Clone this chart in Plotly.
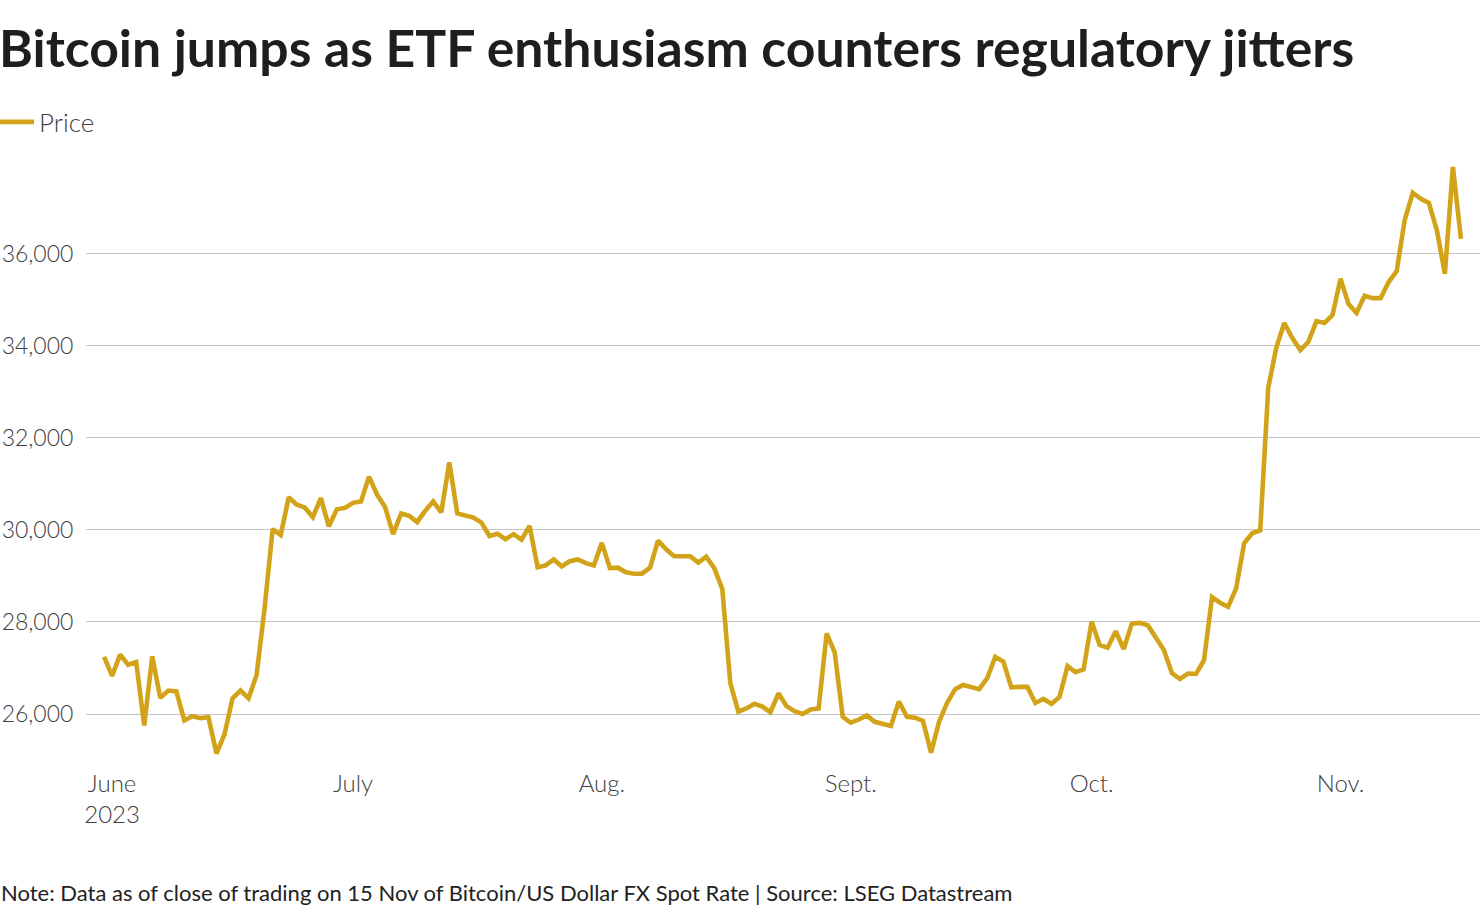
import pandas as pd
import plotly.graph_objects as go

start_date = "2023-05-31"
end_date = "2023-11-16"

prices = [
    27240,
    26830, 27290, 27070, 27130, 25750, 27250, 26350, 26510, 26490, 25860,
    25950, 25910, 25930, 25140, 25560, 26340, 26510, 26340, 26850, 28310,
    30020, 29890, 30710, 30550, 30490, 30280, 30690, 30080, 30450, 30480,
    30590, 30620, 31160, 30770, 30500, 29910, 30360, 30310, 30170, 30420,
    30620, 30380, 31470, 30360, 30320, 30270, 30160, 29870, 29920, 29800,
    29910, 29790, 30090, 29190, 29230, 29360, 29210, 29320, 29360, 29280,
    29230,
    29720, 29170, 29180, 29080, 29050, 29050, 29180, 29770, 29580, 29430,
    29420, 29430, 29290, 29420, 29170, 28720, 26670, 26050, 26120, 26220,
    26160, 26040, 26450, 26170, 26060, 26000, 26100, 26120, 27750, 27340,
    25940,
    25810, 25880, 25970, 25830, 25780, 25740, 26270, 25940, 25920, 25850,
    25160, 25830, 26240, 26540, 26630, 26580, 26540, 26780, 27240, 27140,
    26580, 26590, 26590, 26240, 26330, 26220, 26370, 27040, 26910, 26970,
    28010, 27500, 27440, 27800, 27410, 27960, 27980, 27930, 27680, 27390,
    26890, 26760, 26880, 26870, 27170, 28540, 28420, 28330, 28730, 29710,
    29930, 29990, 33090, 33960, 34500, 34170, 33910, 34090, 34540, 34500,
    34670,
    35460, 34910, 34720, 35090, 35040, 35040, 35390, 35630, 36740, 37330,
    37200, 37110, 36520, 35570, 37890, 36330,
]

month_ticks = ["2023-06-01", "2023-07-01", "2023-08-01", "2023-09-01", "2023-10-01", "2023-11-01"]
month_labels = ["June<br>2023", "July", "Aug.", "Sept.", "Oct.", "Nov."]

y_ticks = [26000, 28000, 30000, 32000, 34000, 36000]

title_text = "Bitcoin jumps as ETF enthusiasm counters regulatory jitters"
note_text = "Note: Data as of close of trading on 15 Nov of Bitcoin/US Dollar FX Spot Rate | Source: LSEG Datastream"

dates = pd.date_range(start_date, end_date, freq="D")

LINE_COLOR = "#d2a318"
TEXT_COLOR = "#404040"
FONT = "Lato"

# plot-area geometry in pixels (used to place outside texts)
L, R, T, B = 86, 4, 150, 156
PW = 1484 - L - R
PH = 916 - T - B


def px_x(x):
    return (x - L) / PW


def px_y(y):
    return (916 - B - y) / PH


fig = go.Figure()
fig.add_trace(go.Scatter(
    x=dates, y=prices, mode="lines", name="Price",
    line=dict(color=LINE_COLOR, width=4.6),
    hoverinfo="skip",
))

fig.update_layout(
    width=1484, height=916,
    paper_bgcolor="white", plot_bgcolor="white",
    margin=dict(l=L, r=R, t=T, b=B, autoexpand=False),
    font=dict(family=FONT, color=TEXT_COLOR),
    showlegend=True,
    legend=dict(
        x=px_x(-7), xref="paper", xanchor="left",
        y=px_y(122), yref="paper", yanchor="middle",
        itemwidth=36,
        font=dict(family=FONT, size=26, color=TEXT_COLOR, weight=300),
        bgcolor="rgba(0,0,0,0)", borderwidth=0,
    ),
    xaxis=dict(
        range=["2023-05-28 18:00", "2023-11-18 09:00"],
        tickmode="array", tickvals=month_ticks, ticktext=month_labels,
        showgrid=False, zeroline=False, showline=False,
        ticks="outside", ticklen=2, tickcolor="rgba(0,0,0,0)",
        tickfont=dict(family=FONT, size=24, color=TEXT_COLOR, weight=300),
    ),
    yaxis=dict(
        range=[25000, 38260],
        tickmode="array", tickvals=y_ticks,
        tickformat=",",
        showgrid=True, gridcolor="#c4c4c4", gridwidth=1.2,
        zeroline=False, showline=False,
        ticks="outside", ticklen=7, tickcolor="rgba(0,0,0,0)",
        tickfont=dict(family=FONT, size=23, color=TEXT_COLOR, weight=300),
    ),
    annotations=[
        dict(
            text=f"<b>{title_text}</b>", showarrow=False,
            xref="paper", yref="paper", x=px_x(-3), y=px_y(47),
            xanchor="left", yanchor="middle",
            font=dict(family=FONT, size=51.7, color="#1e1e1e"),
        ),
        dict(
            text=note_text, showarrow=False,
            xref="paper", yref="paper", x=px_x(-1), y=px_y(892),
            xanchor="left", yanchor="middle",
            font=dict(family=FONT, size=22, color="#222222"),
        ),
    ],
)

fig.write_html(
    "out.html",
    config={"displayModeBar": False},
    post_script="document.body.style.margin='0';",
)
